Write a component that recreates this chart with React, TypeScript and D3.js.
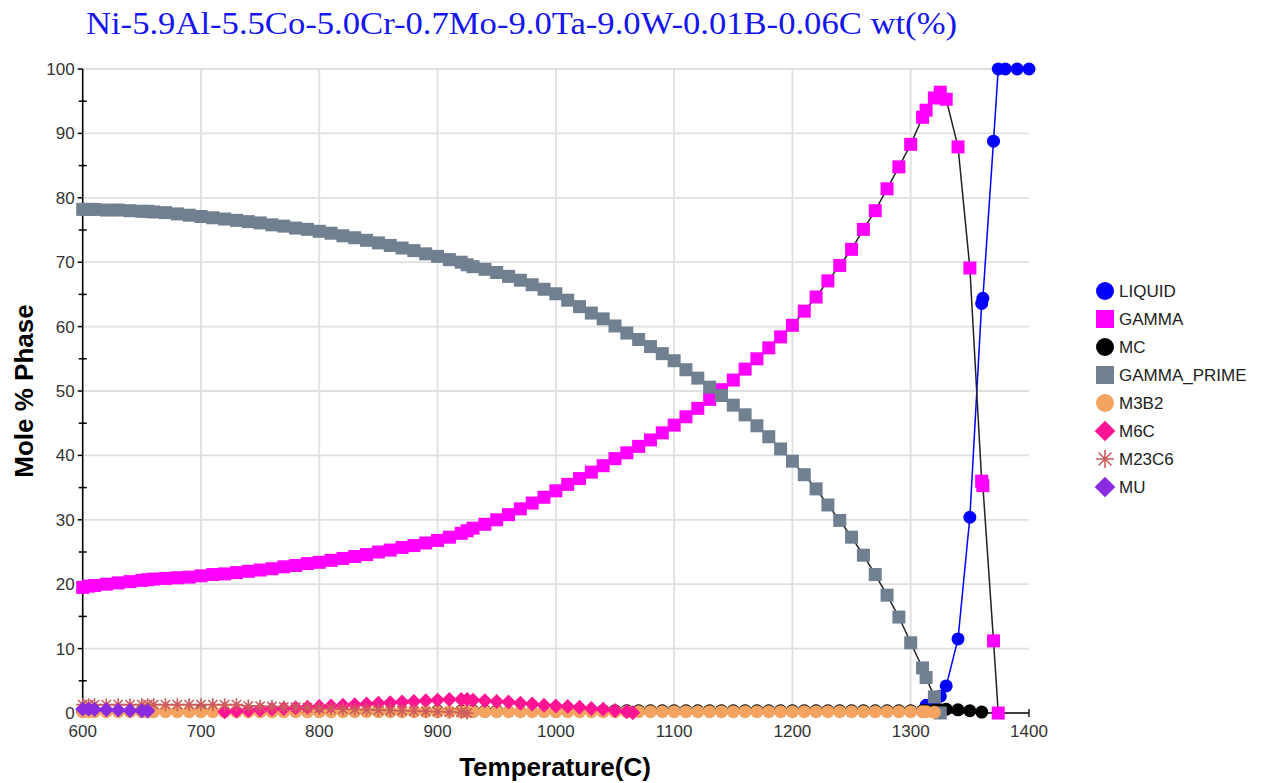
import React from "react";
import * as d3 from "d3";

const TITLE = "Ni-5.9Al-5.5Co-5.0Cr-0.7Mo-9.0Ta-9.0W-0.01B-0.06C wt(%)";
const X_LABEL = "Temperature(C)";
const Y_LABEL = "Mole % Phase";
const X_TICKS = [600, 700, 800, 900, 1000, 1100, 1200, 1300, 1400];
const Y_TICKS = [0, 10, 20, 30, 40, 50, 60, 70, 80, 90, 100];
const Y_MINOR = [5, 15, 25, 35, 45, 55, 65, 75, 85, 95];

type Pt = [number, number];

const LIQUID: Pt[] = [
  [1310, 0.3], [1313, 1.2], [1320, 2.0], [1325, 2.6], [1330, 4.2], [1340, 11.5],
  [1350, 30.4], [1360, 63.6], [1361, 64.4], [1370, 88.8], [1374, 100], [1380, 100],
  [1390, 100], [1400, 100],
];

const GAMMA: Pt[] = [
  [600, 19.5], [605, 19.7], [610, 19.8], [620, 20.0], [630, 20.2], [640, 20.4], [650, 20.6],
  [655, 20.7], [660, 20.8], [670, 20.9], [680, 21.0], [690, 21.1], [700, 21.3], [710, 21.5],
  [720, 21.6], [730, 21.8], [740, 22.0], [750, 22.2], [760, 22.4], [770, 22.7], [780, 22.9],
  [790, 23.2], [800, 23.4], [810, 23.7], [820, 24.0], [830, 24.3], [840, 24.6], [850, 25.0],
  [860, 25.3], [870, 25.7], [880, 26.0], [890, 26.4], [900, 26.8], [910, 27.3], [920, 27.9],
  [925, 28.3], [930, 28.7], [940, 29.3], [950, 30.0], [960, 30.8], [970, 31.7], [980, 32.6],
  [990, 33.5], [1000, 34.5], [1010, 35.5], [1020, 36.4], [1030, 37.4], [1040, 38.4],
  [1050, 39.5], [1060, 40.4], [1070, 41.4], [1080, 42.4], [1090, 43.5], [1100, 44.7],
  [1110, 46.0], [1120, 47.3], [1130, 48.7], [1140, 50.2], [1150, 51.7], [1160, 53.4],
  [1170, 55.0], [1180, 56.7], [1190, 58.4], [1200, 60.2], [1210, 62.4], [1220, 64.6],
  [1230, 67.1], [1240, 69.5], [1250, 72.0], [1260, 75.1], [1270, 78.0], [1280, 81.4],
  [1290, 84.8], [1300, 88.3], [1310, 92.5], [1313, 93.6], [1320, 95.5], [1325, 96.4],
  [1330, 95.3], [1340, 87.9], [1350, 69.1], [1360, 36.0], [1361, 35.3], [1370, 11.2],
  [1374, 0],
];

const MC: Pt[] = [
  [600, 0.3], [650, 0.3], [700, 0.3], [750, 0.3], [800, 0.3], [850, 0.3], [900, 0.3],
  [920, 0.3], [930, 0.3], [940, 0.3], [950, 0.3], [1040, 0.35], [1050, 0.35], [1060, 0.35],
  [1070, 0.35], [1080, 0.35], [1090, 0.35], [1100, 0.35], [1110, 0.35], [1120, 0.35],
  [1130, 0.35], [1140, 0.35], [1150, 0.35], [1160, 0.35], [1170, 0.35], [1180, 0.35],
  [1190, 0.35], [1200, 0.35], [1210, 0.35], [1220, 0.35], [1230, 0.35], [1240, 0.35],
  [1250, 0.35], [1260, 0.35], [1270, 0.35], [1280, 0.35], [1290, 0.35], [1300, 0.35],
  [1310, 0.35], [1313, 0.4], [1320, 0.45], [1325, 0.5], [1330, 0.6], [1340, 0.5],
  [1350, 0.35], [1360, 0.15],
];

const GAMMA_PRIME: Pt[] = [
  [600, 78.2], [605, 78.2], [610, 78.2], [620, 78.1], [630, 78.1], [640, 78.0], [650, 77.9],
  [655, 77.9], [660, 77.8], [670, 77.7], [680, 77.5], [690, 77.3], [700, 77.1], [710, 76.9],
  [720, 76.7], [730, 76.5], [740, 76.3], [750, 76.1], [760, 75.8], [770, 75.6], [780, 75.3],
  [790, 75.1], [800, 74.8], [810, 74.5], [820, 74.1], [830, 73.8], [840, 73.4], [850, 73.0],
  [860, 72.6], [870, 72.2], [880, 71.8], [890, 71.3], [900, 70.9], [910, 70.4], [920, 70.0],
  [925, 69.6], [930, 69.3], [940, 68.9], [950, 68.4], [960, 67.8], [970, 67.2], [980, 66.5],
  [990, 65.8], [1000, 65.1], [1010, 64.1], [1020, 63.1], [1030, 62.1], [1040, 61.2],
  [1050, 60.1], [1060, 59.0], [1070, 58.0], [1080, 56.9], [1090, 55.8], [1100, 54.7],
  [1110, 53.3], [1120, 52.0], [1130, 50.6], [1140, 49.3], [1150, 47.8], [1160, 46.3],
  [1170, 44.6], [1180, 42.9], [1190, 41.0], [1200, 39.1], [1210, 37.0], [1220, 34.8],
  [1230, 32.3], [1240, 29.9], [1250, 27.3], [1260, 24.5], [1270, 21.5], [1280, 18.3],
  [1290, 14.9], [1300, 10.9], [1310, 7.0], [1313, 5.5], [1320, 2.5], [1325, 0],
];

const M3B2: Pt[] = [
  [600, 0.2], [605, 0.2], [610, 0.2], [620, 0.2], [630, 0.2], [640, 0.2], [650, 0.2],
  [655, 0.2], [660, 0.2], [670, 0.2], [680, 0.2], [690, 0.2], [700, 0.2], [710, 0.2],
  [720, 0.2], [730, 0.2], [740, 0.2], [750, 0.2], [760, 0.2], [770, 0.2], [780, 0.2],
  [790, 0.2], [800, 0.2], [810, 0.2], [820, 0.2], [830, 0.2], [840, 0.2], [850, 0.2],
  [860, 0.2], [870, 0.2], [880, 0.2], [890, 0.2], [900, 0.2], [910, 0.2], [920, 0.2],
  [925, 0.2], [930, 0.2], [940, 0.2], [950, 0.2], [960, 0.2], [970, 0.2], [980, 0.2],
  [990, 0.2], [1000, 0.2], [1010, 0.2], [1020, 0.2], [1030, 0.2], [1040, 0.2], [1050, 0.2],
  [1060, 0.2], [1070, 0.2], [1080, 0.2], [1090, 0.2], [1100, 0.2], [1110, 0.2], [1120, 0.2],
  [1130, 0.2], [1140, 0.2], [1150, 0.2], [1160, 0.2], [1170, 0.2], [1180, 0.2], [1190, 0.2],
  [1200, 0.2], [1210, 0.2], [1220, 0.2], [1230, 0.2], [1240, 0.2], [1250, 0.2], [1260, 0.2],
  [1270, 0.2], [1280, 0.2], [1290, 0.2], [1300, 0.2], [1310, 0.2], [1313, 0.2], [1320, 0.1],
];

const M6C: Pt[] = [
  [720, 0.2], [730, 0.3], [740, 0.4], [750, 0.5], [760, 0.6], [770, 0.7], [780, 0.8],
  [790, 0.9], [800, 1.0], [810, 1.1], [820, 1.2], [830, 1.3], [840, 1.4], [850, 1.5],
  [860, 1.6], [870, 1.7], [880, 1.8], [890, 1.9], [900, 2.0], [910, 2.1], [920, 2.1],
  [925, 2.1], [930, 2.0], [940, 1.9], [950, 1.8], [960, 1.7], [970, 1.5], [980, 1.4],
  [990, 1.2], [1000, 1.1], [1010, 1.0], [1020, 0.9], [1030, 0.7], [1040, 0.6], [1050, 0.4],
  [1060, 0.2], [1065, 0.05],
];

const M23C6: Pt[] = [
  [600, 1.3], [605, 1.3], [610, 1.3], [620, 1.3], [630, 1.3], [640, 1.3], [650, 1.3],
  [655, 1.3], [660, 1.3], [670, 1.3], [680, 1.3], [690, 1.3], [700, 1.3], [710, 1.3],
  [720, 1.3], [730, 1.3], [740, 1.1], [750, 1.05], [760, 1.0], [770, 0.95], [780, 0.9],
  [790, 0.8], [800, 0.7], [810, 0.65], [820, 0.6], [830, 0.55], [840, 0.5], [850, 0.45],
  [860, 0.4], [870, 0.35], [880, 0.3], [890, 0.25], [900, 0.2], [910, 0.15], [920, 0.1],
  [925, 0],
];

const MU: Pt[] = [
  [600, 0.6], [605, 0.6], [610, 0.55], [620, 0.5], [630, 0.45], [640, 0.4], [650, 0.35],
  [655, 0.3],
];

type Shape = "circle" | "square" | "diamond" | "star";
const SERIES: { name: string; data: Pt[]; fill: string; line: string; shape: Shape }[] = [
  { name: "LIQUID", data: LIQUID, fill: "#0000FF", line: "#0000FF", shape: "circle" },
  { name: "GAMMA", data: GAMMA, fill: "#FF00FF", line: "#222222", shape: "square" },
  { name: "MC", data: MC, fill: "#000000", line: "#000000", shape: "circle" },
  { name: "GAMMA_PRIME", data: GAMMA_PRIME, fill: "#708090", line: "#222222", shape: "square" },
  { name: "M3B2", data: M3B2, fill: "#F4A460", line: "#222222", shape: "circle" },
  { name: "M6C", data: M6C, fill: "#FF1493", line: "#222222", shape: "diamond" },
  { name: "M23C6", data: M23C6, fill: "#CD5C5C", line: "#CD5C5C", shape: "star" },
  { name: "MU", data: MU, fill: "#8A2BE2", line: "#222222", shape: "diamond" },
];

const W = 1266;
const H = 783;
const X0 = 82.7, X1 = 1029, Y0 = 713, Y1 = 69;

function Marker({ shape, cx, cy, s, color }: { shape: Shape; cx: number; cy: number; s: number; color: string }) {
  if (shape === "circle") return <circle cx={cx} cy={cy} r={s / 2} fill={color} />;
  if (shape === "square") return <rect x={cx - s / 2} y={cy - s / 2} width={s} height={s} fill={color} />;
  if (shape === "diamond") {
    const h = (s * 1.15) / 2;
    return <path d={`M${cx},${cy - h}L${cx + h},${cy}L${cx},${cy + h}L${cx - h},${cy}Z`} fill={color} />;
  }
  const h = s / 2;
  const k = h * 0.72;
  return (
    <path
      d={`M${cx - h},${cy}L${cx + h},${cy}M${cx},${cy - h}L${cx},${cy + h}M${cx - k},${cy - k}L${cx + k},${cy + k}M${cx - k},${cy + k}L${cx + k},${cy - k}`}
      stroke={color}
      strokeWidth={1.6}
      fill="none"
    />
  );
}

export default function App() {
  const x = d3.scaleLinear().domain([600, 1400]).range([X0, X1]);
  const y = d3.scaleLinear().domain([0, 100]).range([Y0, Y1]);
  const line = d3.line<Pt>().x((d) => x(d[0])).y((d) => y(d[1]));
  const sans = "'Liberation Sans', Arial, sans-serif";

  return (
    <svg width={W} height={H} style={{ position: "absolute", left: 0, top: 0, display: "block", background: "#fff" }}>
      <rect x={0} y={0} width={W} height={H} fill="#fff" />
      <text x={86} y={34} fill="#1515ee" fontFamily="'Liberation Serif', 'Times New Roman', serif" fontSize={31} textLength={871} lengthAdjust="spacingAndGlyphs">
        {TITLE}
      </text>

      {/* grid */}
      {X_TICKS.filter((t) => t > 600 && t < 1400).map((t) => (
        <line key={"gx" + t} x1={x(t)} x2={x(t)} y1={Y1} y2={Y0} stroke="#e0e0e0" strokeWidth={1.8} />
      ))}
      {Y_TICKS.filter((t) => t > 0).map((t) => (
        <line key={"gy" + t} x1={X0} x2={X1} y1={y(t)} y2={y(t)} stroke="#e0e0e0" strokeWidth={1.8} />
      ))}

      {/* axes */}
      <line x1={X0} x2={X0} y1={Y1} y2={Y0} stroke="#000" strokeWidth={1.6} />
      <line x1={X0} x2={X1} y1={Y0} y2={Y0} stroke="#000" strokeWidth={1.3} />
      {Y_TICKS.map((t) => (
        <line key={"yt" + t} x1={X0 - 5} x2={X0} y1={y(t)} y2={y(t)} stroke="#000" strokeWidth={1.5} />
      ))}
      {Y_MINOR.map((t) => (
        <line key={"ym" + t} x1={X0 - 4} x2={X0 + 4} y1={y(t)} y2={y(t)} stroke="#000" strokeWidth={1.5} />
      ))}
      {X_TICKS.map((t) => (
        <line key={"xt" + t} x1={x(t)} x2={x(t)} y1={Y0 - 4} y2={Y0 + 4} stroke="#000" strokeWidth={1.3} />
      ))}
      {Y_TICKS.map((t) => (
        <text key={"yl" + t} x={X0 - 8} y={y(t)} dy="0.35em" textAnchor="end" fontFamily={sans} fontSize={17} fill="#333">
          {t}
        </text>
      ))}
      {X_TICKS.map((t) => (
        <text key={"xl" + t} x={x(t)} y={737} textAnchor="middle" fontFamily={sans} fontSize={17} fill="#333">
          {t}
        </text>
      ))}
      <text x={555} y={776} textAnchor="middle" fontFamily={sans} fontSize={26} fontWeight="bold" fill="#000">
        {X_LABEL}
      </text>
      <text transform="translate(33,391) rotate(-90)" textAnchor="middle" fontFamily={sans} fontSize={26} fontWeight="bold" fill="#000">
        {Y_LABEL}
      </text>

      {/* lines */}
      {SERIES.map((s) => (
        <path key={"l" + s.name} d={line(s.data) || ""} fill="none" stroke={s.line} strokeWidth={1.5} />
      ))}
      {/* markers */}
      {SERIES.map((s) => (
        <g key={"m" + s.name}>
          {s.data.map((d, i) => (
            <Marker key={i} shape={s.shape} cx={x(d[0])} cy={y(d[1])} s={13} color={s.fill} />
          ))}
        </g>
      ))}

      {/* legend */}
      {SERIES.map((s, i) => {
        const ly = 291 + i * 28;
        return (
          <g key={"lg" + s.name}>
            <Marker shape={s.shape} cx={1105} cy={ly} s={18} color={s.fill} />
            <text x={1119} y={ly} dy="0.36em" fontFamily={sans} fontSize={17} fill="#222">
              {s.name}
            </text>
          </g>
        );
      })}
    </svg>
  );
}
